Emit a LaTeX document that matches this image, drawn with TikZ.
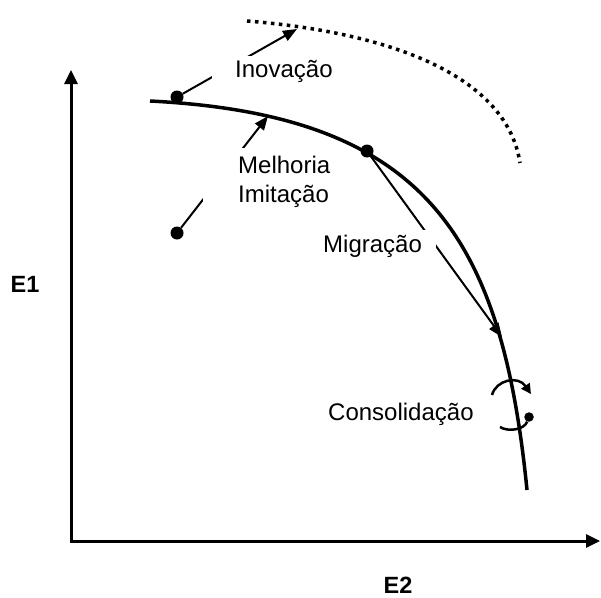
\documentclass[tikz,border=0pt]{standalone}
\usepackage{fontspec}
\setmainfont{Liberation Sans}
\usetikzlibrary{arrows.meta}
\pgfdeclarelayer{conns}
\pgfdeclarelayer{labels}
\pgfsetlayers{conns,labels,main}
\begin{document}
\begin{tikzpicture}[x=1pt,y=-1pt,
  lbl/.style={font=\fontsize{24}{29}\selectfont, inner sep=0pt},
  axislbl/.style={font=\fontsize{23.5}{29}\selectfont\bfseries, inner sep=0pt},
  axisline/.style={line width=3pt, line join=miter,
    {Triangle[length=14pt,width=13pt]}-{Triangle[length=14pt,width=13pt]}},
  frontier/.style={line width=3.5pt},
  dottedfrontier/.style={line width=3.5pt, dash pattern=on 3.5pt off 4.5pt},
  conn/.style={line width=2pt, -{Triangle[length=14pt,width=11pt]}},
  rot/.style={line width=2.5pt},
  bigdot/.style={circle, fill=black, inner sep=0pt, minimum size=13pt},
  smalldot/.style={circle, fill=black, inner sep=0pt, minimum size=9.5pt},
]
\useasboundingbox (0,0) rectangle (601,597);

% axes
\coordinate (ytip) at (71,70);
\coordinate (O) at (71,541);
\coordinate (xtip) at (600,541);
\draw[axisline] (ytip) -- (O) -- (xtip);
\node[axislbl, anchor=base west] (e1) at (10.5,292) {E1};
\node[axislbl, anchor=base west] (e2) at (383.5,593) {E2};

% frontiers
\coordinate (f0) at (150,101);
\coordinate (f1) at (527,490);
\draw[frontier] (f0) .. controls (425,115) and (501.5,235) .. (f1);
\coordinate (g0) at (247,21);
\coordinate (g1) at (520,163);
\draw[dottedfrontier] (g0) .. controls (407,34) and (508,83) .. (g1);

% dots
\node[bigdot] (d1) at (177,97) {};
\node[bigdot] (d2) at (367,151) {};
\node[bigdot] (d3) at (177,233) {};
\node[smalldot] (d4) at (529,417) {};

% arrow end points
\coordinate (tipI) at (297,29);
\coordinate (tipM) at (268,116);
\coordinate (tipG) at (502,337);

\begin{pgfonlayer}{conns}
\draw[conn] (d1) -- (tipI);
\draw[conn] (d3) -- (tipM);
\draw[conn] (d2) -- (tipG);
\end{pgfonlayer}

\begin{pgfonlayer}{labels}
\node[lbl, fill=white, inner xsep=23pt, inner ysep=4pt, anchor=base west] (inov) at (212,77) {Inovação};
\node[lbl, fill=white, align=left, inner xsep=35pt, inner ysep=8pt, anchor=north west] (melh) at (203,148) {Melhoria\\Imitação};
\node[lbl, fill=white, inner xsep=14pt, inner ysep=5pt, anchor=base west] (migr) at (309,252) {Migração};
\end{pgfonlayer}

\node[lbl, anchor=base west] (cons) at (328,420) {Consolidação};

% consolidation rotation
\coordinate (c1) at (492,395);
\coordinate (c2) at (531,394);
\coordinate (c3) at (500,427);
\draw[rot, -{Triangle[length=10pt,width=10pt]}] (c1) .. controls (496,380) and (518,375) .. (c2);
\draw[rot] (c3) .. controls (508,432) and (524,430) .. (d4);
\end{tikzpicture}
\end{document}
